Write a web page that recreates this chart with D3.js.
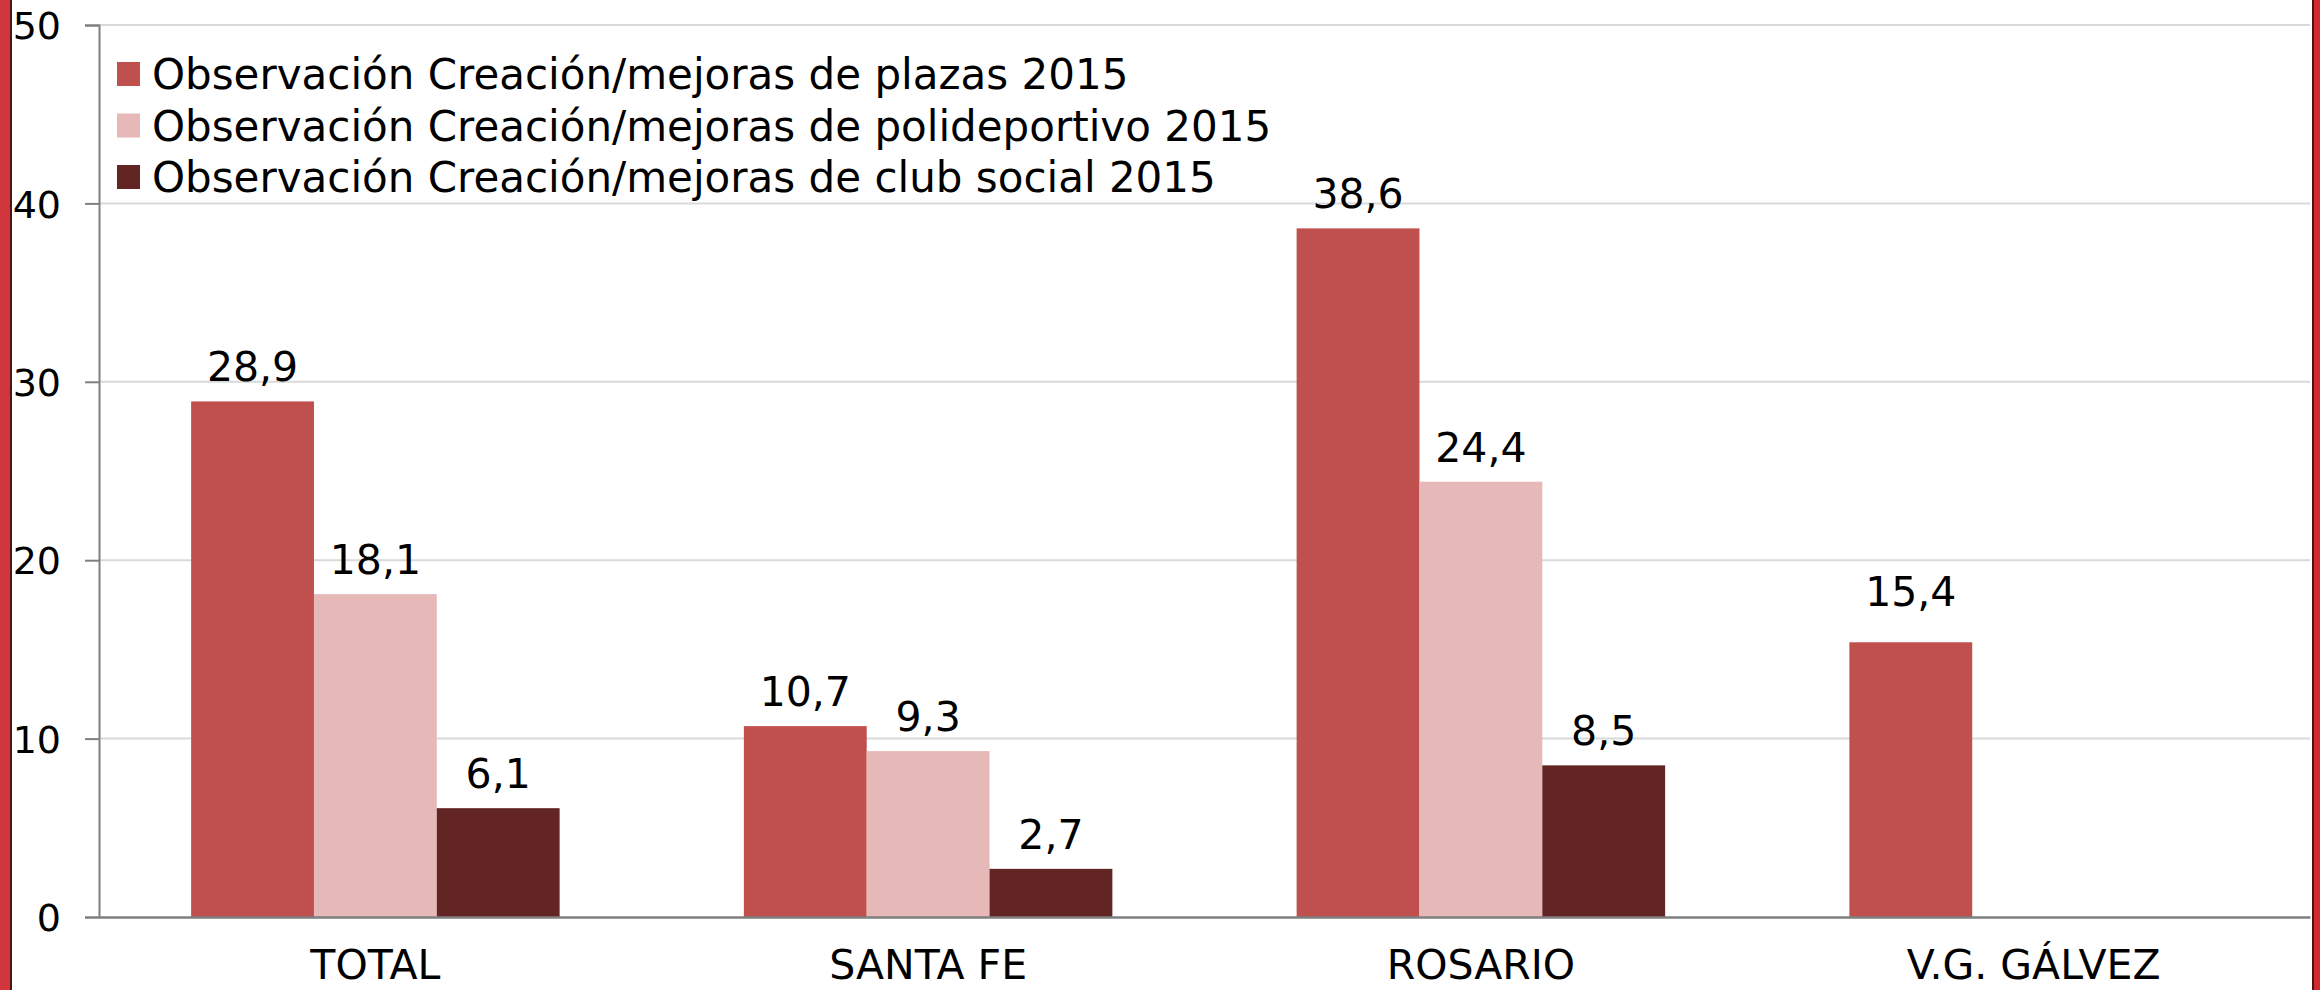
<!DOCTYPE html>
<html>
<head>
<meta charset="utf-8">
<script src="https://cdn.jsdelivr.net/npm/d3@7"></script>
<style>
  body { margin: 0; background: #fff; }
  svg text { font-family: "DejaVu Sans", sans-serif; fill: #000; }
</style>
</head>
<body>
<svg width="2320" height="990"></svg>
<script>
  const categories = ["TOTAL", "SANTA FE", "ROSARIO", "V.G. GÁLVEZ"];
  const seriesNames = [
    "Observación Creación/mejoras de plazas 2015",
    "Observación Creación/mejoras de polideportivo 2015",
    "Observación Creación/mejoras de club social 2015"
  ];
  const plazas = [28.9, 10.7, 38.6, 15.4];
  const polideportivo = [18.1, 9.3, 24.4, null];
  const clubSocial = [6.1, 2.7, 8.5, null];
  const yTicks = [0, 10, 20, 30, 40, 50];

  const seriesValues = [plazas, polideportivo, clubSocial];
  const colors = ["#c0504d", "#e6b9b8", "#632523"];

  const width = 2320, height = 990;
  const plotLeft = 99, plotRight = 2310, plotTop = 25, plotBottom = 917;
  const fontSize = 41;

  const svg = d3.select("svg");

  // side strips of the slide
  svg.append("rect").attr("x", 0).attr("y", 0).attr("width", 10).attr("height", height).attr("fill", "#d0363c");
  svg.append("rect").attr("x", 10).attr("y", 0).attr("width", 2).attr("height", height).attr("fill", "#4a1515");
  svg.append("rect").attr("x", 2314).attr("y", 0).attr("width", 6).attr("height", height).attr("fill", "#cf2a30");
  svg.append("rect").attr("x", 2312).attr("y", 0).attr("width", 2).attr("height", height).attr("fill", "#4a1515");

  const x0 = d3.scaleBand()
    .domain(categories)
    .range([plotLeft, plotRight]);

  const x1 = d3.scaleBand()
    .domain(d3.range(seriesNames.length))
    .range([0, x0.bandwidth()])
    .paddingOuter(0.75);

  const y = d3.scaleLinear()
    .domain([0, 50])
    .range([plotBottom, plotTop]);

  const fmt = d3.formatLocale({decimal: ",", thousands: ".", grouping: [3], currency: ["", ""]}).format(".1f");

  // gridlines
  svg.append("g")
    .selectAll("line")
    .data(yTicks.filter(d => d > 0))
    .enter().append("line")
    .attr("x1", plotLeft).attr("x2", plotRight)
    .attr("y1", d => y(d)).attr("y2", d => y(d))
    .attr("stroke", "#d9d9d9")
    .attr("stroke-width", 2);

  // bars
  const table = [];
  categories.forEach((c, i) => {
    seriesValues.forEach((vals, s) => {
      if (vals[i] != null) table.push({cat: c, s: s, v: vals[i]});
    });
  });

  svg.append("g")
    .selectAll("rect")
    .data(table)
    .enter().append("rect")
    .attr("x", d => x0(d.cat) + x1(d.s))
    .attr("y", d => y(d.v))
    .attr("width", x1.bandwidth())
    .attr("height", d => y(0) - y(d.v))
    .attr("fill", d => colors[d.s]);

  //value labels (the Gálvez one sits a bit higher in the original)
  svg.append("g")
    .selectAll("text")
    .data(table)
    .enter().append("text")
    .attr("x", d => x0(d.cat) + x1(d.s) + x1.bandwidth() / 2)
    .attr("y", d => y(d.v) - (d.cat === "V.G. GÁLVEZ" ? 36 : 20))
    .attr("text-anchor", "middle")
    .style("font-size", fontSize + "px")
    .text(d => fmt(d.v));

  // y axis
  const yAxis = svg.append("g")
    .attr("transform", `translate(${plotLeft},0)`)
    .call(d3.axisLeft(y).tickValues(yTicks).tickSize(14).tickPadding(24).tickFormat(d3.format("d")));
  yAxis.select(".domain").attr("stroke", "#7f7f7f").attr("stroke-width", 2);
  yAxis.selectAll(".tick line").attr("stroke", "#7f7f7f").attr("stroke-width", 2);
  yAxis.selectAll(".tick text")
    .attr("dy", "0.36em")
    .style("font-size", "38px")
    .style("font-family", '"DejaVu Sans", sans-serif')
    .attr("fill", "#000");

  // x axis
  const xAxis = svg.append("g")
    .attr("transform", `translate(0,${plotBottom})`)
    .call(d3.axisBottom(x0).tickSize(0).tickPadding(0));
  xAxis.select(".domain").attr("stroke", "#7f7f7f").attr("stroke-width", 2.5);
  xAxis.selectAll(".tick text")
    .attr("y", 62)
    .attr("dy", 0)
    .style("font-size", fontSize + "px")
    .style("font-family", '"DejaVu Sans", sans-serif')
    .attr("fill", "#000");

  // legend
  const legend = svg.selectAll(".legend")
    .data(seriesNames)
    .enter().append("g")
    .attr("class", "legend")
    .attr("transform", (d, i) => `translate(117,${62 + i * 51.5})`);

  legend.append("rect")
    .attr("width", 23)
    .attr("height", 24)
    .attr("fill", (d, i) => colors[i]);

  legend.append("text")
    .attr("x", 35)
    .attr("y", 27)
    .style("font-size", "42px")
    .text(d => d);
</script>
</body>
</html>
